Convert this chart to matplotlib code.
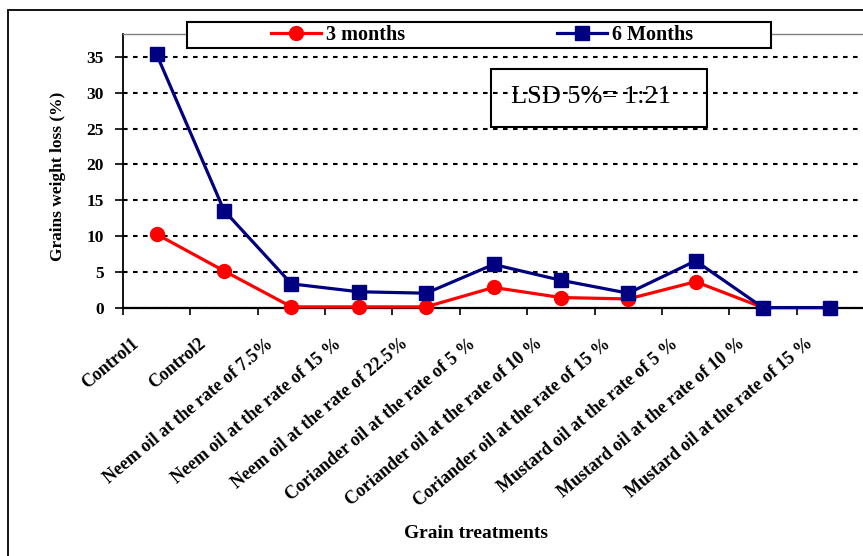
import matplotlib
matplotlib.use("Agg")
import matplotlib.pyplot as plt
import matplotlib.transforms as mtransforms
from matplotlib.patches import Rectangle
import numpy as np

plt.rcParams['font.family'] = ['Liberation Serif', 'DejaVu Serif']

treatments = ['Control1', 'Control2',
              'Neem oil at the rate of 7.5%', 'Neem oil at the rate of 15 %',
              'Neem oil at the rate of 22.5%', 'Coriander oil at the rate of 5 %',
              'Coriander oil at the rate of 10 %', 'Coriander oil at the rate of 15 %',
              'Mustard oil at the rate of 5 %', 'Mustard oil at the rate of 10 %',
              'Mustard oil at the rate of 15 %']
months3 = [10.3, 5.2, 0.2, 0.2, 0.2, 2.9, 1.5, 1.3, 3.7, 0.1, 0.1]
months6 = [35.3, 13.6, 3.4, 2.3, 2.1, 6.1, 3.9, 2.1, 6.6, 0.1, 0.1]
yticks = [0, 5, 10, 15, 20, 25, 30, 35]

W, H = 863, 556
fig = plt.figure(figsize=(W / 100, H / 100), dpi=100)
ax = fig.add_axes([123 / W, 1 - 308.3 / H, 741 / W, 274.3 / H])

x = np.arange(len(treatments))
ax.plot(x, months3, color='#FF0000', lw=2.3, marker='o', ms=10,
        label='3 months', zorder=3, clip_on=False)
ax.plot(x, months6, color='#000080', lw=2.3, marker='s', ms=9.5,
        label='6 Months', zorder=4, clip_on=False)

ax.set_xlim(-0.5, len(treatments) - 0.5)
ax.set_ylim(0, 38.15)
ax.set_yticks(yticks)
ax.yaxis.grid(True, color='black', lw=1.5, linestyle=(0, (2.2, 2.6)))
ax.set_axisbelow(True)

for lbl in ax.get_yticklabels():
    lbl.set_fontweight('bold')
ax.tick_params(axis='y', direction='out', length=6, width=1.2, pad=8, labelsize=12.5)

# category boundaries as ticks, names at the centres
ax.set_xticks(np.arange(-0.5, len(treatments), 1.0))
ax.set_xticklabels([])
ax.set_xticks(x, minor=True)
ax.set_xticklabels(treatments, minor=True, rotation=40, ha='right',
                   rotation_mode='anchor', va='center',
                   fontsize=13, fontweight='bold')
ax.tick_params(axis='x', which='major', direction='out', length=5, width=1.2)
ax.tick_params(axis='x', which='minor', length=0, pad=24)
shift = mtransforms.ScaledTranslation(-20 / 100, 0, fig.dpi_scale_trans)
for lbl in ax.get_xticklabels(minor=True):
    lbl.set_transform(lbl.get_transform() + shift)

ax.spines['right'].set_visible(False)
ax.spines['top'].set_color('#808080')
ax.spines['top'].set_linewidth(1)
ax.spines['left'].set_linewidth(1.3)
ax.spines['bottom'].set_linewidth(1.6)

ax.set_ylabel('Grains weight loss (%)', fontsize=12.5, fontweight='bold')
ax.yaxis.set_label_coords((66 - 123) / 741, (308.3 - 176) / 274.3)
ax.set_xlabel('Grain treatments', fontsize=14, fontweight='bold')
ax.xaxis.set_label_coords((476 - 123) / 741, (308.3 - 525) / 274.3)

# LSD box
fig.patches.append(Rectangle((491 / W, 1 - 127 / H), 216 / W, 58 / H,
                             transform=fig.transFigure, fill=False,
                             ec='black', lw=1.5, zorder=5))
fig.text(591 / W, 1 - 97 / H, 'LSD 5%= 1:21', fontsize=19, ha='center', va='center')

# legend box over the top of the plot area
fig.patches.append(Rectangle((187 / W, 1 - 48 / H), 584 / W, 26 / H,
                             transform=fig.transFigure, fc='white',
                             ec='black', lw=1.5, zorder=5))
handles, labels = ax.get_legend_handles_labels()
leg = fig.legend(handles, labels, loc='center', ncol=2,
                 bbox_to_anchor=(482 / W, 1 - 35 / H), frameon=False,
                 prop={'weight': 'bold', 'size': 14.5},
                 handlelength=2.5, handletextpad=0.25, columnspacing=7.5,
                 borderpad=0, borderaxespad=0)
leg.set_zorder(6)

# outer chart border
fig.patches.append(Rectangle((8 / W, -0.1), 2, 1.1 - 10 / H,
                             transform=fig.transFigure, fill=False,
                             ec='black', lw=1.3, zorder=1))

fig.savefig('out.png', dpi=100)
